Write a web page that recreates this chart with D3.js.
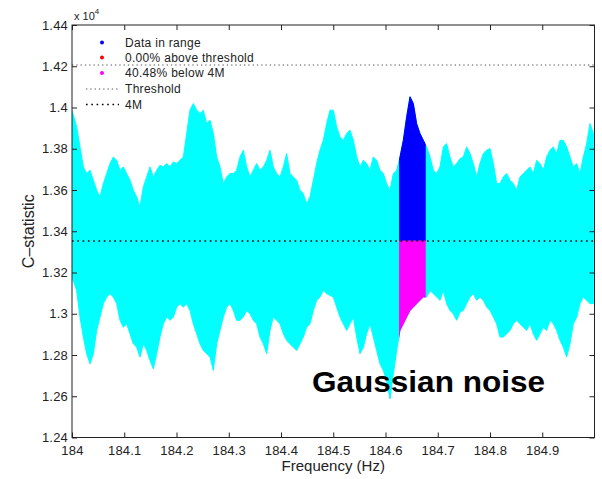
<!DOCTYPE html>
<html>
<head>
<meta charset="utf-8">
<script src="https://cdn.jsdelivr.net/npm/d3@7"></script>
<style>
  body { margin: 0; background: #fff; }
  svg { display: block; }
  text { font-family: "Liberation Sans", Arial, Helvetica, sans-serif; }
</style>
</head>
<body>
<svg id="chart" width="602" height="479"></svg>
<script>
// frequencias (Hz) das amostras do envelope
const freqs = [
  184.0000,184.0089,184.0153,184.0217,184.0281,184.0345,184.0408,184.0472,184.0536,184.0600,
  184.0664,184.0727,184.0791,184.0855,184.0919,184.0982,184.1046,184.1110,184.1174,184.1238,
  184.1301,184.1365,184.1429,184.1493,184.1557,184.1620,184.1684,184.1748,184.1812,184.1876,
  184.1939,184.2003,184.2067,184.2131,184.2195,184.2258,184.2322,184.2386,184.2450,184.2513,
  184.2577,184.2641,184.2705,184.2769,184.2832,184.2896,184.2960,184.3024,184.3088,184.3151,
  184.3215,184.3279,184.3343,184.3407,184.3470,184.3534,184.3598,184.3662,184.3726,184.3789,
  184.3853,184.3917,184.3981,184.4045,184.4108,184.4172,184.4236,184.4300,184.4363,184.4427,
  184.4491,184.4555,184.4619,184.4682,184.4746,184.4810,184.4874,184.4938,184.5001,184.5065,
  184.5129,184.5193,184.5257,184.5320,184.5384,184.5448,184.5512,184.5576,184.5639,184.5703,
  184.5767,184.5831,184.5895,184.5958,184.6022,184.6086,184.6150,184.6214,184.6277,184.6341,
  184.6405,184.6469,184.6533,184.6596,184.6660,184.6724,184.6788,184.6852,184.6915,184.6979,
  184.7043,184.7107,184.7170,184.7234,184.7298,184.7362,184.7426,184.7489,184.7553,184.7617,
  184.7681,184.7745,184.7808,184.7872,184.7936,184.8000,184.8064,184.8127,184.8191,184.8255,
  184.8319,184.8383,184.8446,184.8510,184.8574,184.8638,184.8702,184.8765,184.8829,184.8893,
  184.8957,184.9021,184.9084,184.9148,184.9212,184.9276,184.9340,184.9403,184.9467,184.9531,
  184.9595,184.9659,184.9722,184.9786,184.9850,184.9914,184.9978
];

// topo da nuvem de pontos (C-statistic)
const upper = [
  13987,13906,13809,13712,13680,13696,13647,13599,13566,13631,
  13680,13728,13760,13744,13696,13712,13680,13647,13599,13566,
  13518,13615,13663,13712,13663,13696,13720,13712,13728,13712,
  13736,13728,13744,13760,13874,13987,14019,13987,13971,13987,
  13922,13938,13874,13760,13712,13631,13663,13680,13680,13696,
  13760,13793,13712,13663,13696,13728,13696,13712,13744,13793,
  13712,13680,13663,13712,13777,13680,13663,13647,13599,13582,
  13534,13566,13647,13728,13793,13841,13922,13987,13987,13906,
  13858,13841,13874,13890,13841,13760,13712,13744,13728,13696,
  13760,13744,13696,13680,13631,13599,13680,13696,13760,13841,
  13955,14052,14019,13922,13874,13841,13809,13760,13696,13680,
  13712,13809,13825,13760,13712,13728,13752,13760,13809,13777,
  13728,13663,13728,13777,13793,13801,13728,13631,13631,13663,
  13680,13647,13631,13599,13663,13680,13696,13712,13680,13744,
  13728,13696,13760,13793,13809,13777,13841,13841,13809,13760,
  13712,13728,13680,13760,13825,13922,13874
];

// base da nuvem de pontos
const lower = [
  13178,13113,12984,12887,12806,12757,12806,12919,12984,13049,
  13081,13097,13081,13049,12968,12935,12951,12903,12854,12838,
  12790,12854,12822,12773,12733,12806,12887,12951,12984,12968,
  12984,13032,13049,13032,13049,13016,12951,12903,12854,12822,
  12806,12790,12725,12854,12919,12984,13032,13049,13016,12968,
  12968,12984,13016,13000,12968,12951,12887,12854,12806,12919,
  12984,12968,12951,12903,12871,12854,12838,12822,12854,12887,
  12935,12951,13016,13065,13081,13113,13097,13089,13081,13032,
  12984,12951,12919,12951,12984,12887,12806,12838,12903,12951,
  12887,12822,12757,12725,12676,12587,12709,12822,12919,12951,
  12984,13016,13032,13049,13065,13081,13081,13113,13097,13081,
  13065,13113,13049,13016,13000,12968,13008,13016,13049,13081,
  13097,13065,13081,13065,13032,13016,12984,12951,12887,12887,
  12903,12919,12951,12968,12951,12935,12919,12951,12903,12871,
  12903,12935,12919,12968,12951,12919,12871,12838,12790,12854,
  12951,12984,13049,13081,13065,13049,13049
];

const bandRange = [184.626, 184.677];   // faixa "Data in range"
const level4M = 13353;
const threshold = 14206;

const xTicks = [184, 184.1, 184.2, 184.3, 184.4, 184.5, 184.6, 184.7, 184.8, 184.9];
const xTickLabels = ["184", "184.1", "184.2", "184.3", "184.4", "184.5", "184.6", "184.7", "184.8", "184.9"];
const yTicks = [12400, 12600, 12800, 13000, 13200, 13400, 13600, 13800, 14000, 14200, 14400];
const yTickLabels = ["1.24", "1.26", "1.28", "1.3", "1.32", "1.34", "1.36", "1.38", "1.4", "1.42", "1.44"];

const legendItems = [
  { label: "Data in range", kind: "dot", color: "#0000ff" },
  { label: "0.00% above threshold", kind: "dot", color: "#ff0000" },
  { label: "40.48% below 4M", kind: "dot", color: "#ff00ff" },
  { label: "Threshold", kind: "line", color: "#8c8c8c" },
  { label: "4M", kind: "line", color: "#000000" }
];

const svg = d3.select("#chart");
const margin = { left: 72, right: 7.5, top: 25, bottom: 41.5 };
const W = 602, H = 479;

const x = d3.scaleLinear().domain([184, 185]).range([margin.left, W - margin.right]);
const y = d3.scaleLinear().domain([12400, 14400]).range([H - margin.bottom, margin.top]);

const pts = freqs.map((f, i) => ({ f: f, hi: upper[i], lo: lower[i] }));

svg.append("rect").attr("width", W).attr("height", H).attr("fill", "#fff");

const defs = svg.append("defs");
defs.append("clipPath").attr("id", "plotClip")
  .append("rect")
  .attr("x", x(184)).attr("y", y(14400))
  .attr("width", x(185) - x(184)).attr("height", y(12400) - y(14400));
defs.append("clipPath").attr("id", "bandClip")
  .append("rect")
  .attr("x", x(bandRange[0])).attr("y", y(14400))
  .attr("width", x(bandRange[1]) - x(bandRange[0])).attr("height", y(12400) - y(14400));

const plot = svg.append("g").attr("clip-path", "url(#plotClip)");

// ruido gaussiano (ciano)
plot.append("path")
  .datum(pts)
  .attr("fill", "#00ffff")
  .attr("stroke", "#00ffff")
  .attr("stroke-width", 1)
  .attr("d", d3.area().x(d => x(d.f)).y0(d => y(d.lo)).y1(d => y(d.hi)));

const band = svg.append("g").attr("clip-path", "url(#bandClip)");

band.append("path")
  .datum(pts)
  .attr("fill", "#0000ff")
  .attr("stroke", "#0000ff")
  .attr("stroke-width", 1)
  .attr("d", d3.area().x(d => x(d.f)).y0(y(level4M)).y1(d => y(d.hi)));

band.append("path")
  .datum(pts)
  .attr("fill", "#ff00ff")
  .attr("stroke", "#ff00ff")
  .attr("stroke-width", 1)
  .attr("d", d3.area().x(d => x(d.f)).y0(d => y(d.lo)).y1(y(level4M)));

// linhas de referencia
svg.append("line")
  .attr("x1", x(184)).attr("x2", x(185))
  .attr("y1", y(threshold)).attr("y2", y(threshold))
  .attr("stroke", "#8c8c8c").attr("stroke-width", 1.3)
  .attr("stroke-dasharray", "1.3,3");

svg.append("line")
  .attr("x1", x(184)).attr("x2", x(185))
  .attr("y1", y(level4M)).attr("y2", y(level4M))
  .attr("stroke", "#000").attr("stroke-width", 1.6)
  .attr("stroke-dasharray", "1.6,3.7");

// eixos (ticks para dentro, estilo MATLAB)
function styleAxis(g) {
  g.select(".domain").remove();
  g.selectAll(".tick line").attr("stroke", "#222");
  g.selectAll(".tick text")
    .attr("fill", "#222")
    .style("font-family", "'Liberation Sans', Arial, sans-serif")
    .style("font-size", "13px")
    .style("letter-spacing", "0.2px");
}

svg.append("g")
  .attr("transform", `translate(0,${y(12400)})`)
  .call(d3.axisBottom(x).tickValues(xTicks).tickSize(-5).tickPadding(8)
    .tickFormat((d, i) => xTickLabels[i]))
  .call(styleAxis);

svg.append("g")
  .attr("transform", `translate(0,${y(14400)})`)
  .call(d3.axisTop(x).tickValues(xTicks).tickSize(-5).tickFormat(""))
  .call(styleAxis);

svg.append("g")
  .attr("transform", `translate(${x(184)},0)`)
  .call(d3.axisLeft(y).tickValues(yTicks).tickSize(-5).tickPadding(4)
    .tickFormat((d, i) => yTickLabels[i]))
  .call(styleAxis);

svg.append("g")
  .attr("transform", `translate(${x(185)},0)`)
  .call(d3.axisRight(y).tickValues(yTicks).tickSize(-5).tickFormat(""))
  .call(styleAxis);

svg.append("rect")
  .attr("x", x(184)).attr("y", y(14400))
  .attr("width", x(185) - x(184)).attr("height", y(12400) - y(14400))
  .attr("fill", "none").attr("stroke", "#222").attr("stroke-width", 1);

// expoente
const expo = svg.append("text").attr("x", 74).attr("y", 20)
  .attr("font-size", 11).attr("fill", "#222");
expo.append("tspan").text("x 10");
expo.append("tspan").attr("dy", -6).attr("font-size", 8).text("4");

// titulos dos eixos
svg.append("text")
  .attr("x", (x(184) + x(185)) / 2).attr("y", 471)
  .attr("text-anchor", "middle").attr("font-size", 15).attr("fill", "#222")
  .text("Frequency (Hz)");

svg.append("text")
  .attr("transform", `translate(34,${(y(12400) + y(14400)) / 2}) rotate(-90)`)
  .attr("text-anchor", "middle").attr("font-size", 16).attr("fill", "#222")
  .text("C\u2013statistic");

// legenda
const leg = svg.append("g");
legendItems.forEach((d, i) => {
  const cy = [42.5, 57.5, 73, 89, 104.5][i];
  if (d.kind === "dot") {
    leg.append("circle").attr("cx", 102).attr("cy", cy).attr("r", 2)
      .attr("fill", d.color);
  } else {
    leg.append("line").attr("x1", 86).attr("x2", 119).attr("y1", cy).attr("y2", cy)
      .attr("stroke", d.color).attr("stroke-width", i === 4 ? 1.6 : 1.3)
      .attr("stroke-dasharray", i === 4 ? "1.6,3.7" : "1.3,3");
  }
  leg.append("text").attr("x", 125).attr("y", cy + 4.3)
    .attr("font-size", 12).attr("fill", "#222")
    .style("letter-spacing", "0.3px")
    .text(d.label);
});

// anotacao
svg.append("text")
  .attr("x", 312).attr("y", 391.5)
  .attr("font-size", 30).attr("font-weight", "bold").attr("fill", "#000")
  .attr("textLength", 233).attr("lengthAdjust", "spacingAndGlyphs")
  .text("Gaussian noise");
</script>
</body>
</html>
